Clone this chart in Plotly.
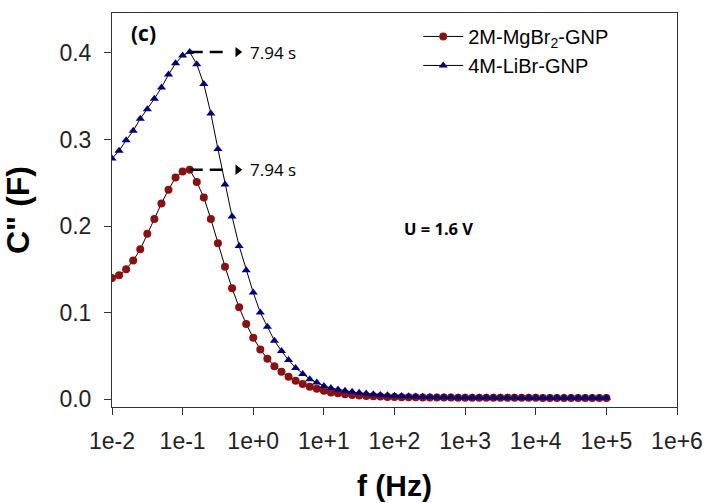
import plotly.graph_objects as go

# ---- data ----
FREQ_HZ = [
    0.01, 0.01259, 0.01585, 0.01995, 0.02512, 0.03162, 0.03981, 0.05012, 0.0631, 0.07943,
    0.1, 0.1259, 0.1585, 0.1995, 0.2512, 0.3162, 0.3981, 0.5012, 0.631, 0.7943,
    1.0, 1.259, 1.585, 1.995, 2.512, 3.162, 3.981, 5.012, 6.31, 7.943,
    10.0, 12.59, 15.85, 19.95, 25.12, 31.62, 39.81, 50.12, 63.1, 79.43,
    100.0, 125.9, 158.5, 199.5, 251.2, 316.2, 398.1, 501.2, 631.0, 794.3,
    1000.0, 1259.0, 1585.0, 1995.0, 2512.0, 3162.0, 3981.0, 5012.0, 6310.0, 7943.0,
    10000.0, 12590.0, 15850.0, 19950.0, 25120.0, 31620.0, 39810.0, 50120.0, 63100.0, 79430.0,
    100000.0,
]

MGBR2_GNP = [
    0.140, 0.143, 0.150, 0.160, 0.173, 0.191, 0.208, 0.226, 0.242, 0.256,
    0.263, 0.265, 0.251, 0.233, 0.208, 0.180, 0.153, 0.128, 0.106, 0.0867,
    0.0709, 0.0574, 0.0466, 0.0380, 0.0316, 0.0258, 0.0212, 0.0173, 0.0142, 0.0119,
    0.0096, 0.0077, 0.0066, 0.0054, 0.0046, 0.0040, 0.0035, 0.0031, 0.0028, 0.0025,
    0.0023, 0.0022, 0.0021, 0.0020, 0.0019, 0.0018, 0.0018, 0.0017, 0.0017, 0.0016,
    0.0016, 0.0016, 0.0015, 0.0015, 0.0015, 0.0015, 0.0014, 0.0014, 0.0014, 0.0014,
    0.0014, 0.0013, 0.0013, 0.0013, 0.0013, 0.0013, 0.0013, 0.0012, 0.0012, 0.0012,
    0.0012,
]

LIBR_GNP = [
    0.278, 0.287, 0.299, 0.310, 0.324, 0.335, 0.347, 0.360, 0.375, 0.388,
    0.397, 0.401, 0.387, 0.364, 0.330, 0.289, 0.248, 0.211, 0.177, 0.149,
    0.123, 0.100, 0.0836, 0.0674, 0.0555, 0.0450, 0.0360, 0.0290, 0.0230, 0.0190,
    0.0152, 0.0127, 0.0110, 0.0096, 0.0083, 0.0072, 0.0063, 0.0055, 0.0048, 0.0043,
    0.0038, 0.0034, 0.0031, 0.0028, 0.0026, 0.0024, 0.0022, 0.0021, 0.0020, 0.0019,
    0.0019, 0.0018, 0.0018, 0.0018, 0.0017, 0.0017, 0.0017, 0.0017, 0.0016, 0.0016,
    0.0016, 0.0016, 0.0016, 0.0015, 0.0015, 0.0015, 0.0015, 0.0015, 0.0015, 0.0015,
    0.0015,
]

SERIES_NAMES = ["2M-MgBr<sub>2</sub>-GNP", "4M-LiBr-GNP"]

X_TICK_VALS = [0.01, 0.1, 1, 10, 100, 1000, 10000, 100000, 1000000]
X_TICK_TEXT = ["1e-2", "1e-1", "1e+0", "1e+1", "1e+2", "1e+3", "1e+4", "1e+5", "1e+6"]
Y_TICK_VALS = [0.0, 0.1, 0.2, 0.3, 0.4]

RELAX_TIME_S = 7.94
PEAK_FREQ = 1 / RELAX_TIME_S
PEAK_LIBR = 0.401
PEAK_MGBR = 0.265

RED = "#8B1111"
NAVY = "#00007F"

fig = go.Figure()

fig.add_trace(go.Scatter(
    x=FREQ_HZ, y=MGBR2_GNP, name=SERIES_NAMES[0], mode="lines+markers",
    line=dict(color="black", width=1),
    marker=dict(symbol="circle", size=8, color=RED),
))
fig.add_trace(go.Scatter(
    x=FREQ_HZ, y=LIBR_GNP, name=SERIES_NAMES[1], mode="lines+markers",
    line=dict(color="black", width=1),
    marker=dict(symbol="triangle-up", size=8, color=NAVY),
))

# dashed pointer lines with arrow heads
for peak in (PEAK_LIBR, PEAK_MGBR):
    fig.add_trace(go.Scatter(
        x=[PEAK_FREQ, PEAK_FREQ * 10 ** 0.49], y=[peak, peak], mode="lines",
        line=dict(color="black", width=2.5, dash="13px,7px"),
        showlegend=False, hoverinfo="skip",
    ))
    fig.add_trace(go.Scatter(
        x=[PEAK_FREQ * 10 ** 0.68], y=[peak], mode="markers",
        marker=dict(symbol="triangle-right", size=9, color="black"),
        showlegend=False, hoverinfo="skip",
    ))
    fig.add_annotation(
        x=-0.9 + 0.83, y=peak, xref="x", yref="y", text=f"{RELAX_TIME_S} s",
        showarrow=False, xanchor="left", yanchor="middle",
        font=dict(family="Open Sans", size=17, color="black"),
    )

fig.add_annotation(
    x=0.03, y=0.95, xref="paper", yref="paper", text="<b>(c)</b>",
    showarrow=False, xanchor="left", yanchor="middle",
    font=dict(family="Open Sans", size=21, color="black"),
)
fig.add_annotation(
    x=0.513, y=0.454, xref="paper", yref="paper", text="<b>U = 1.6 V</b>",
    showarrow=False, xanchor="left", yanchor="middle",
    font=dict(family="Open Sans", size=16.5, color="black"),
)

axis_common = dict(
    showline=True, linecolor="#333333", linewidth=1, mirror=True,
    ticks="outside", ticklen=7, tickcolor="#333333", tickwidth=1,
    showgrid=False, zeroline=False,
    tickfont=dict(family="Liberation Sans", size=23, color="#222222"),
)

fig.update_xaxes(
    type="log", range=[-2, 6], tickvals=X_TICK_VALS, ticktext=X_TICK_TEXT,
    title=dict(text="<b>f (Hz)</b>", font=dict(family="Liberation Sans", size=30, color="black"), standoff=22),
    ticklabelstandoff=6,
    **axis_common,
)
fig.update_yaxes(
    range=[-0.0092, 0.4462], tickvals=Y_TICK_VALS, tickformat=".1f",
    title=dict(text='<b>C" (F)</b>', font=dict(family="Liberation Sans", size=32, color="black"), standoff=20),
    ticklabelstandoff=8,
    **axis_common,
)

fig.update_layout(
    width=710, height=503,
    margin=dict(l=112, r=33, t=13, b=96, autoexpand=False),
    plot_bgcolor="white", paper_bgcolor="white",
    showlegend=True,
    legend=dict(
        x=0.542, y=0.99, xanchor="left", yanchor="top",
        bgcolor="rgba(0,0,0,0)", borderwidth=0,
        font=dict(family="Liberation Sans", size=20, color="black"),
        itemwidth=40, tracegroupgap=0,
    ),
)

fig.write_html("out.html")
